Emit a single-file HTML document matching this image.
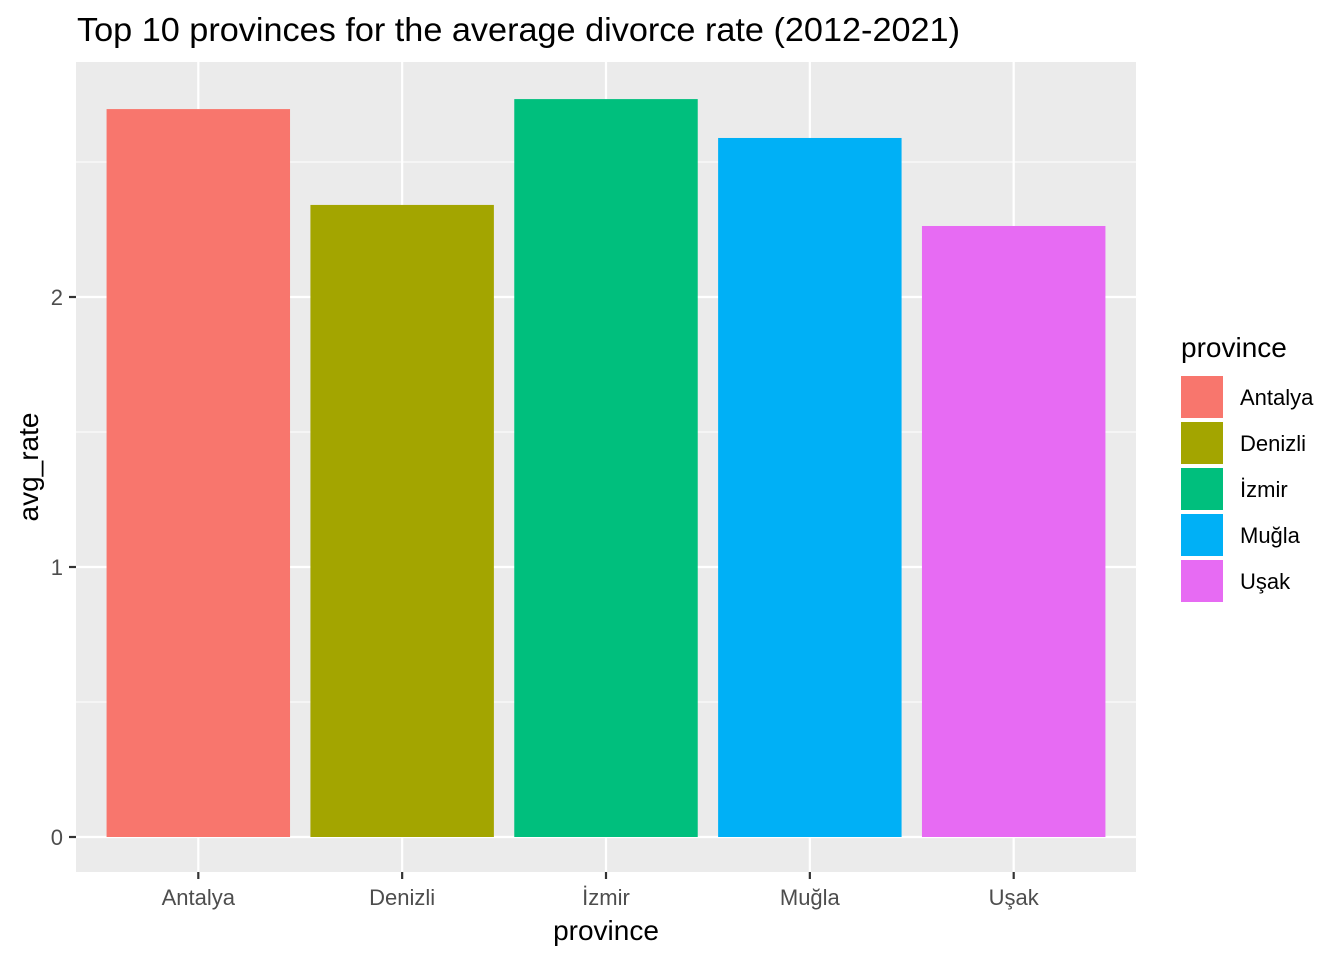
<!DOCTYPE html>
<html><head><meta charset="utf-8"><style>
html,body{margin:0;padding:0;background:#fff;}
svg{display:block;font-family:"Liberation Sans",Arial,sans-serif;}
</style></head><body>
<svg id="chart" width="1344" height="960">
<rect x="0" y="0" width="1344" height="960" fill="#fff"/>
<text x="77" y="41" font-size="33" textLength="883" lengthAdjust="spacingAndGlyphs" fill="#000">Top 10 provinces for the average divorce rate (2012-2021)</text>
<rect x="76" y="62" width="1060" height="810" fill="#ebebeb"/>
<g id="grid"></g><g id="bars"></g><g id="axes"></g><g id="legend"></g>
<text x="606" y="940" font-size="28" text-anchor="middle" fill="#000">province</text>
<text transform="translate(38,467) rotate(-90)" font-size="28" text-anchor="middle" fill="#000">avg_rate</text>
</svg>
<script>
const categories = ["Antalya","Denizli","İzmir","Muğla","Uşak"];
const avgRate = [2.696, 2.341, 2.733, 2.589, 2.263];
const colors = ["#F8766D","#A3A500","#00BF7D","#00B0F6","#E76BF3"];
const yTicks = [0,1,2];
const yMinor = [0.5,1.5,2.5];

const NS="http://www.w3.org/2000/svg";
const px0=76, px1=1136, py0=62, py1=872;
function y(v){return 837 - v*270;}
function x(i){return px0 + (i+0.6)*(px1-px0)/(categories.length+0.2);}
const bw = 0.9*(px1-px0)/(categories.length+0.2);
function mk(tag,attrs,parent){const e=document.createElementNS(NS,tag);for(const k in attrs)e.setAttribute(k,attrs[k]);parent.appendChild(e);return e;}
const grid=document.getElementById('grid'), bars=document.getElementById('bars'), axes=document.getElementById('axes'), legend=document.getElementById('legend');
yMinor.forEach(v=>{if(y(v)>py0){const l=mk('line',{x1:px0,x2:px1,y1:y(v),y2:y(v),stroke:'#fff','stroke-width':1.1},grid);

}});
yTicks.forEach(v=>{const l=mk('line',{x1:px0,x2:px1,y1:y(v),y2:y(v),stroke:'#fff','stroke-width':2.2},grid);


const t=mk('line',{x1:69,x2:76,y1:y(v),y2:y(v),stroke:'#333','stroke-width':2.2},axes);


const tx=mk('text',{x:63,y:y(v)+8,'font-size':22,'text-anchor':'end',fill:'#4d4d4d'},axes);tx.textContent=v;

});
categories.forEach((c,i)=>{const cx=x(i);
const g=mk('line',{x1:cx,x2:cx,y1:py0,y2:py1,stroke:'#fff','stroke-width':2.2},grid);


const r=mk('rect',{x:cx-bw/2,y:y(avgRate[i]),width:bw,height:y(0)-y(avgRate[i]),fill:colors[i]},bars);


const t=mk('line',{x1:cx,x2:cx,y1:872,y2:879,stroke:'#333','stroke-width':2.2},axes);


const tx=mk('text',{x:cx,y:905,'font-size':22,'text-anchor':'middle',fill:'#4d4d4d'},axes);tx.textContent=c;


const k=mk('rect',{x:1181,y:376+i*46,width:42,height:42,fill:colors[i]},legend);


const lt=mk('text',{x:1240,y:405+i*46,'font-size':22,fill:'#000'},legend);lt.textContent=c;

});
const lt=mk('text',{x:1181,y:357,'font-size':28,fill:'#000'},legend);lt.textContent='province';


</script>
</body></html>
